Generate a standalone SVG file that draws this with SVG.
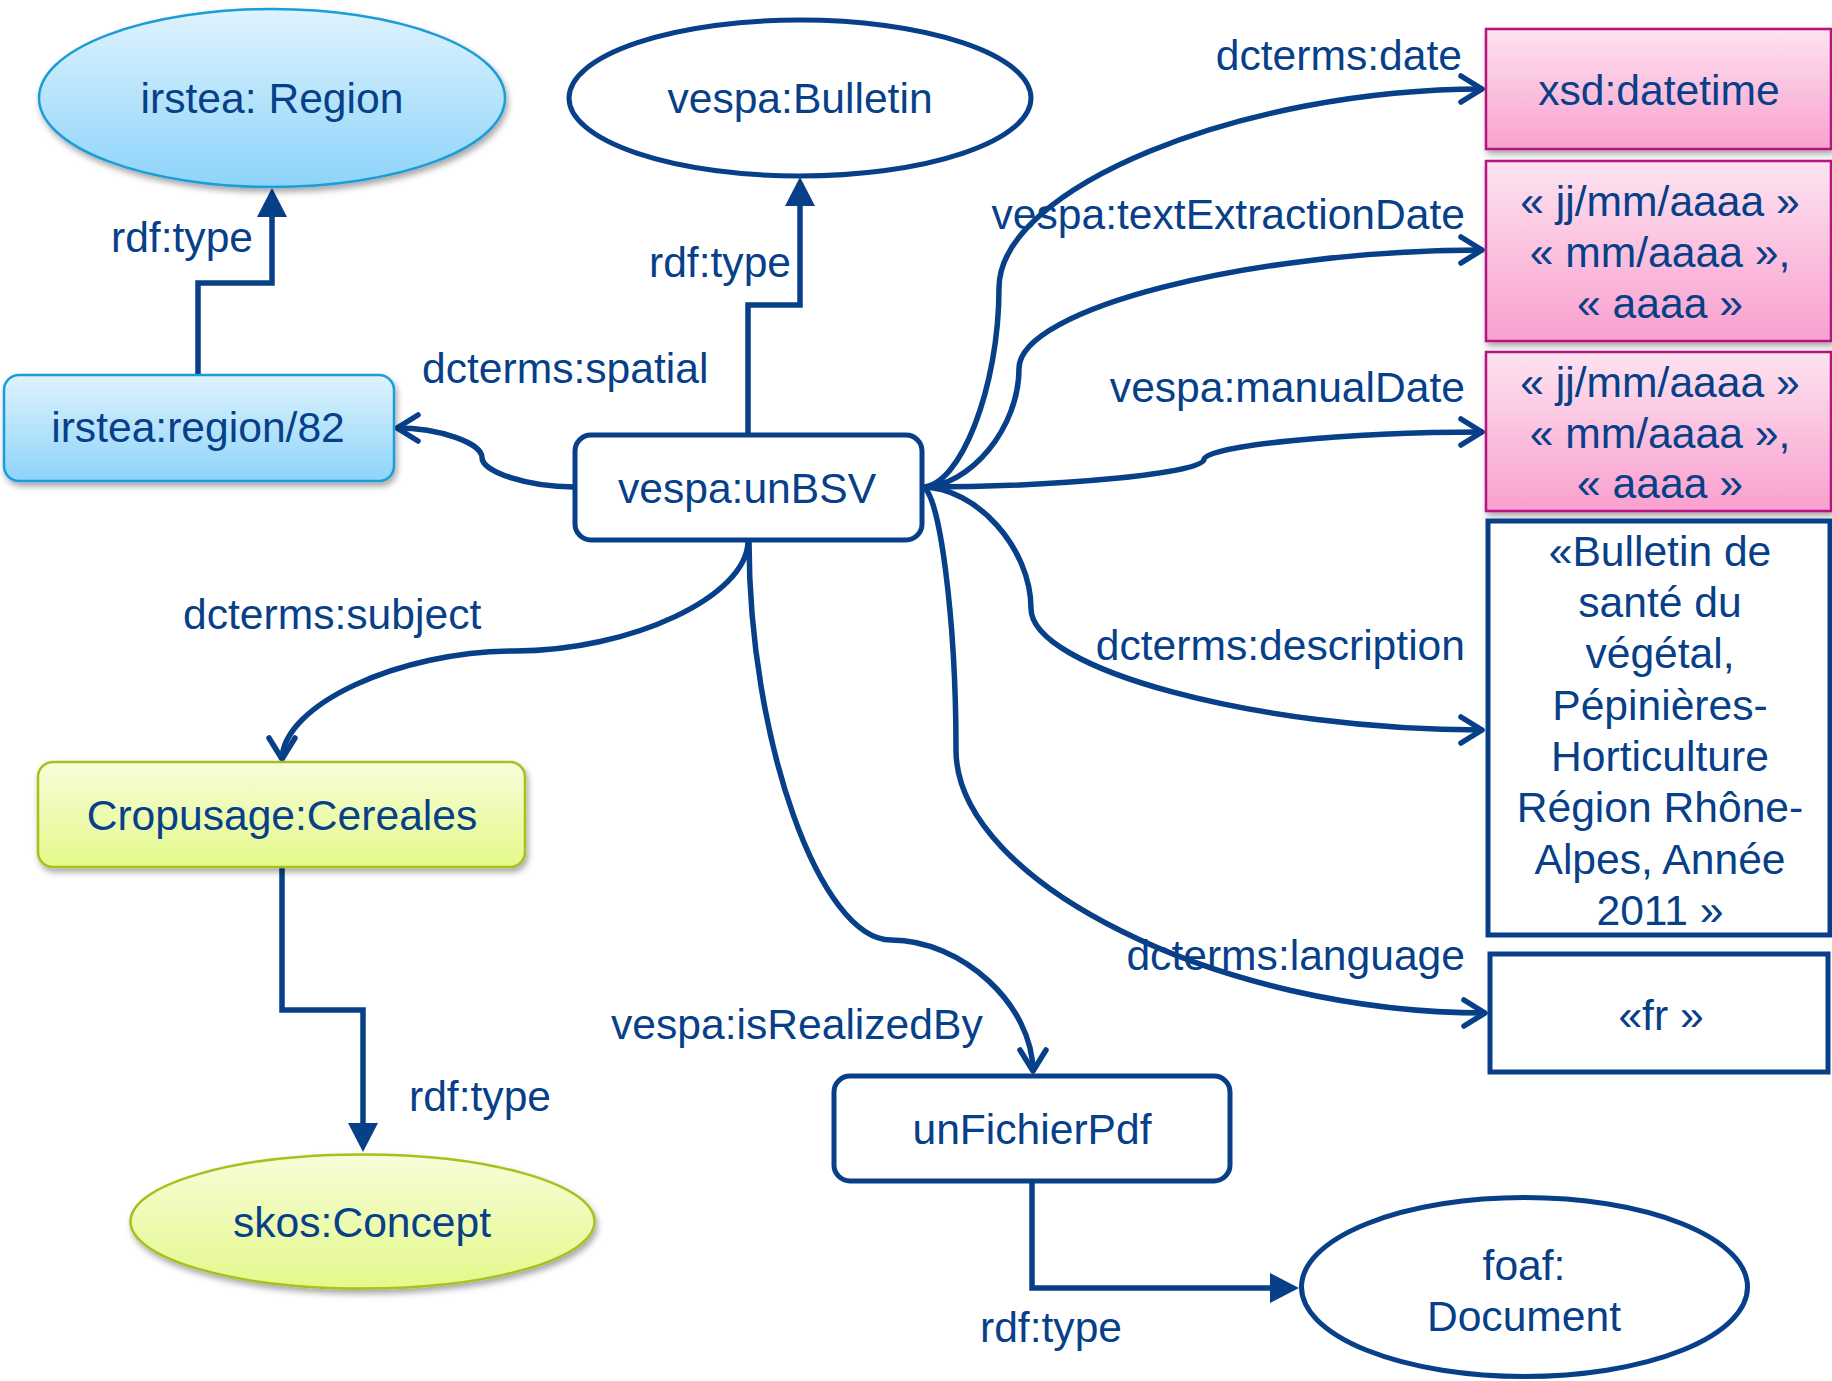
<svg xmlns="http://www.w3.org/2000/svg" width="1832" height="1381" viewBox="0 0 1832 1381">
<defs>
<linearGradient id="gBlue" x1="0" y1="0" x2="0" y2="1"><stop offset="0" stop-color="#dff3fd"/><stop offset="1" stop-color="#8dd4fa"/></linearGradient>
<linearGradient id="gPink" x1="0" y1="0" x2="0" y2="1"><stop offset="0" stop-color="#fde3f0"/><stop offset="1" stop-color="#f9a0ce"/></linearGradient>
<linearGradient id="gGreen" x1="0" y1="0" x2="0" y2="1"><stop offset="0" stop-color="#f7fdd9"/><stop offset="1" stop-color="#e4f98a"/></linearGradient>
<filter id="shadow" x="-10%" y="-10%" width="120%" height="130%"><feDropShadow dx="2" dy="4" stdDeviation="3" flood-color="#000" flood-opacity="0.35"/></filter>
<marker id="open" markerUnits="userSpaceOnUse" viewBox="-30 -20 40 40" markerWidth="40" markerHeight="40" refX="0" refY="0" orient="auto"><path d="M-22,-13 L-1,0 L-22,13" fill="none" stroke="#073f88" stroke-width="5.5" stroke-linecap="round" stroke-linejoin="round"/></marker>
<marker id="solid" markerUnits="userSpaceOnUse" viewBox="-5 -20 40 40" markerWidth="40" markerHeight="40" refX="0" refY="0" orient="auto"><path d="M0,-15 L29,0 L0,15 Z" fill="#073f88"/></marker>
</defs>
<style>
text{font-family:"Liberation Sans",Arial,sans-serif;font-size:42.6px;fill:#073f88}
.c{text-anchor:middle}
.e{text-anchor:end}
.conn{fill:none;stroke:#073f88;stroke-width:5.5}
.open{marker-end:url(#open)}
.solid{marker-end:url(#solid)}
.dark{fill:#fff;stroke:#073f88;stroke-width:5}
.blue{fill:url(#gBlue);stroke:#1c9cd9;stroke-width:2.5;filter:url(#shadow)}
.pink{fill:url(#gPink);stroke:#b3167f;stroke-width:2.5;filter:url(#shadow)}
.green{fill:url(#gGreen);stroke:#a3c21c;stroke-width:2.5;filter:url(#shadow)}
</style>
<rect width="1832" height="1381" fill="#fff"/>
<g id="connectors">
<path class="conn solid" d="M198,375 V283 H272 V217"/>
<path class="conn solid" d="M748,434 V305 H800 V206"/>
<path class="conn solid" d="M282,868 V1010 H363 V1123"/>
<path class="conn solid" d="M1032,1181 V1288 H1270"/>
<path class="conn open" d="M574,487 C528,487 482,472 482,457.5 C482,443 440,428 396,428"/>
<path class="conn open" d="M922,487 C960,487 999,388 999,288 C999,188 1241,89 1483,89"/>
<path class="conn open" d="M922,487 C970,487 1019,428 1019,368.5 C1019,309 1251,250 1483,250"/>
<path class="conn open" d="M922,487 C1063,487 1204,473 1204,459.5 C1204,446 1343,432 1483,432"/>
<path class="conn open" d="M922,487 C976,487 1031,548 1031,608.5 C1031,669 1257,730 1483,730"/>
<path class="conn open" d="M922,487 C939,487 956,618 956,750 C956,882 1220,1013 1486,1013"/>
<path class="conn open" d="M749,541 C749,740 820,940 891,940 C962,940 1033,1005 1033,1072"/>
<path class="conn open" d="M748,541 C748,596 631,651 515,651 C399,651 282,705 282,760"/>
<text x="111" y="252">rdf:type</text>
<text x="649" y="277">rdf:type</text>
<text x="422" y="383">dcterms:spatial</text>
<text x="183" y="629">dcterms:subject</text>
<text x="409" y="1111">rdf:type</text>
<text x="611" y="1039">vespa:isRealizedBy</text>
<text x="980" y="1342">rdf:type</text>
<text class="e" x="1462" y="70">dcterms:date</text>
<text class="e" x="1465" y="229">vespa:textExtractionDate</text>
<text class="e" x="1465" y="402">vespa:manualDate</text>
<text class="e" x="1465" y="660">dcterms:description</text>
<text class="e" x="1465" y="970">dcterms:language</text>
</g>
<g id="region">
<ellipse class="blue" cx="272" cy="98" rx="233" ry="89"/>
<text class="c" x="272" y="113">irstea: Region</text>
</g>
<g id="region82">
<rect class="blue" x="4" y="375" width="390" height="106" rx="15"/>
<text class="c" x="198" y="442">irstea:region/82</text>
</g>
<g id="bulletin">
<ellipse class="dark" cx="800" cy="98" rx="231" ry="78"/>
<text class="c" x="800" y="113">vespa:Bulletin</text>
</g>
<g id="unBSV">
<rect class="dark" x="575" y="435" width="347" height="105" rx="16"/>
<text class="c" x="747" y="503">vespa:unBSV</text>
</g>
<g id="cereales">
<rect class="green" x="38" y="762" width="487" height="105" rx="15"/>
<text class="c" x="282" y="830">Cropusage:Cereales</text>
</g>
<g id="concept">
<ellipse class="green" cx="362.5" cy="1221.5" rx="232" ry="67"/>
<text class="c" x="362" y="1237">skos:Concept</text>
</g>
<g id="fichier">
<rect class="dark" x="834" y="1076" width="396" height="105" rx="16"/>
<text class="c" x="1032" y="1144">unFichierPdf</text>
</g>
<g id="document">
<ellipse class="dark" cx="1524.5" cy="1287" rx="223" ry="89.5"/>
<text class="c" x="1524" y="1280">foaf:</text>
<text class="c" x="1524" y="1331">Document</text>
</g>
<g id="datetime">
<rect class="pink" x="1486" y="29" width="345" height="120"/>
<text class="c" x="1659" y="105">xsd:datetime</text>
</g>
<g id="textDate">
<rect class="pink" x="1486" y="161" width="345" height="180"/>
<text class="c" x="1660" y="216">« jj/mm/aaaa »</text>
<text class="c" x="1660" y="267">« mm/aaaa »,</text>
<text class="c" x="1660" y="318">« aaaa »</text>
</g>
<g id="manualDate">
<rect class="pink" x="1486" y="352" width="345" height="159"/>
<text class="c" x="1660" y="397">« jj/mm/aaaa »</text>
<text class="c" x="1660" y="448">« mm/aaaa »,</text>
<text class="c" x="1660" y="498">« aaaa »</text>
</g>
<g id="description">
<rect class="dark" x="1488" y="521" width="342" height="414"/>
<text class="c" x="1660" y="566">«Bulletin de</text>
<text class="c" x="1660" y="617">santé du</text>
<text class="c" x="1660" y="668">végétal,</text>
<text class="c" x="1660" y="720">Pépinières-</text>
<text class="c" x="1660" y="771">Horticulture</text>
<text class="c" x="1660" y="822">Région Rhône-</text>
<text class="c" x="1660" y="874">Alpes, Année</text>
<text class="c" x="1660" y="925">2011 »</text>
</g>
<g id="language">
<rect class="dark" x="1490" y="954" width="338" height="118"/>
<text class="c" x="1661" y="1030">«fr »</text>
</g>
</svg>
